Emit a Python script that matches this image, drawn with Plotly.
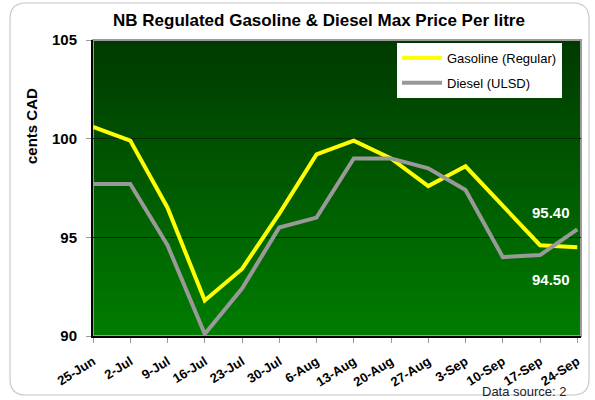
import plotly.graph_objects as go

categories = ["25-Jun", "2-Jul", "9-Jul", "16-Jul", "23-Jul", "30-Jul", "6-Aug",
              "13-Aug", "20-Aug", "27-Aug", "3-Sep", "10-Sep", "17-Sep", "24-Sep"]
gasoline = [100.6, 99.9, 96.5, 91.8, 93.4, 96.2, 99.2, 99.9, 99.0, 97.6, 98.6, 96.6, 94.6, 94.5]
diesel = [97.7, 97.7, 94.6, 90.1, 92.4, 95.5, 96.0, 99.0, 99.0, 98.5, 97.4, 94.0, 94.1, 95.4]
y_ticks = [90, 95, 100, 105]

W, H = 595, 400
L, R, T, B = 93, 14, 40, 64
pw, ph = W - L - R, H - T - B

def px(x):
    return (x - L) / pw

def py(y):
    return (H - B - y) / ph

fig = go.Figure()
fig.add_trace(go.Scatter(x=categories, y=gasoline, mode="lines", name="Gasoline (Regular)",
                         line=dict(color="#ffff00", width=4), legendgroup="g"))
fig.add_trace(go.Scatter(x=categories, y=diesel, mode="lines", name="Diesel (ULSD)",
                         line=dict(color="#999999", width=4), legendgroup="d"))

shapes = []
n = 60
top = (0, 58, 0)
bot = (0, 124, 0)
for i in range(n):
    t = i / (n - 1)
    c = tuple(int(round(top[k] + (bot[k] - top[k]) * t)) for k in range(3))
    shapes.append(dict(type="rect", xref="x domain", yref="y domain",
                       x0=0, x1=1, y0=0, y1=1 - i / n,
                       fillcolor="rgb(%d,%d,%d)" % c, line=dict(width=0), layer="below"))
shapes.append(dict(type="rect", xref="x domain", yref="y domain", x0=0, x1=1, y0=0, y1=1,
                   line=dict(color="#9a9a9a", width=2), layer="below"))

x0, x1, y0, y1, r = 10, 589, 3, 395, 16
path = (f"M {px(x0 + r)},{py(y0)} L {px(x1 - r)},{py(y0)} "
        f"Q {px(x1)},{py(y0)} {px(x1)},{py(y0 + r)} L {px(x1)},{py(y1 - r)} "
        f"Q {px(x1)},{py(y1)} {px(x1 - r)},{py(y1)} L {px(x0 + r)},{py(y1)} "
        f"Q {px(x0)},{py(y1)} {px(x0)},{py(y1 - r)} L {px(x0)},{py(y0 + r)} "
        f"Q {px(x0)},{py(y0)} {px(x0 + r)},{py(y0)} Z")
shapes.append(dict(type="path", xref="paper", yref="paper", path=path,
                   line=dict(color="#c8c8c8", width=1.2), layer="below"))

font = "Liberation Sans, Arial, sans-serif"
annotations = [
    dict(text="<b>NB Regulated Gasoline &amp; Diesel Max Price Per litre</b>", xref="paper", yref="paper",
         x=px(319), y=py(20), xanchor="center", yanchor="middle", showarrow=False,
         font=dict(size=17, color="#000000", family=font)),
    dict(text="<b>cents CAD</b>", xref="paper", yref="paper", x=px(31), y=py(126),
         xanchor="center", yanchor="middle", textangle=-90, showarrow=False,
         font=dict(size=15, color="#000000", family=font)),
    dict(text="<b>95.40</b>", xref="paper", yref="paper", x=px(551), y=py(212),
         xanchor="center", yanchor="middle", showarrow=False,
         font=dict(size=15, color="#ffffff", family=font)),
    dict(text="<b>94.50</b>", xref="paper", yref="paper", x=px(551), y=py(279),
         xanchor="center", yanchor="middle", showarrow=False,
         font=dict(size=15, color="#ffffff", family=font)),
    dict(text="Data source: 2", xref="paper", yref="paper", x=px(569), y=py(391),
         xanchor="right", yanchor="middle", showarrow=False,
         font=dict(size=13, color="#222222", family=font)),
]

fig.update_layout(
    width=W, height=H,
    margin=dict(l=L, r=R, t=T, b=B, pad=0, autoexpand=False),
    paper_bgcolor="#ffffff", plot_bgcolor="rgba(0,0,0,0)",
    showlegend=True,
    legend=dict(x=px(397), y=py(43), xanchor="left", yanchor="top",
                bgcolor="#ffffff", bordercolor="#ffffff", borderwidth=0,
                font=dict(size=13, color="#000000", family=font),
                tracegroupgap=5, itemwidth=40),
    shapes=shapes, annotations=annotations,
    xaxis=dict(type="category", range=[0, 13.1], showgrid=False, zeroline=False,
               showline=True, linecolor="#000000", linewidth=2, automargin=False,
               ticks="outside", ticklen=5, tickcolor="#9a9a9a", tickangle=-32,
               ticklabelstandoff=6,
               tickfont=dict(size=13, color="#000000", family=font, weight="bold")),
    yaxis=dict(range=[90, 105], tickvals=y_ticks, showgrid=True, gridcolor="#002a00", gridwidth=1,
               zeroline=False, showline=True, linecolor="#000000", linewidth=2, automargin=False,
               ticks="outside", ticklen=5, tickcolor="#9a9a9a", ticklabelstandoff=6,
               tickfont=dict(size=15, color="#000000", family=font, weight="bold")),
)

fig.write_html("out.html", config={"displayModeBar": False},
               post_script="document.body.style.margin='0px';")
